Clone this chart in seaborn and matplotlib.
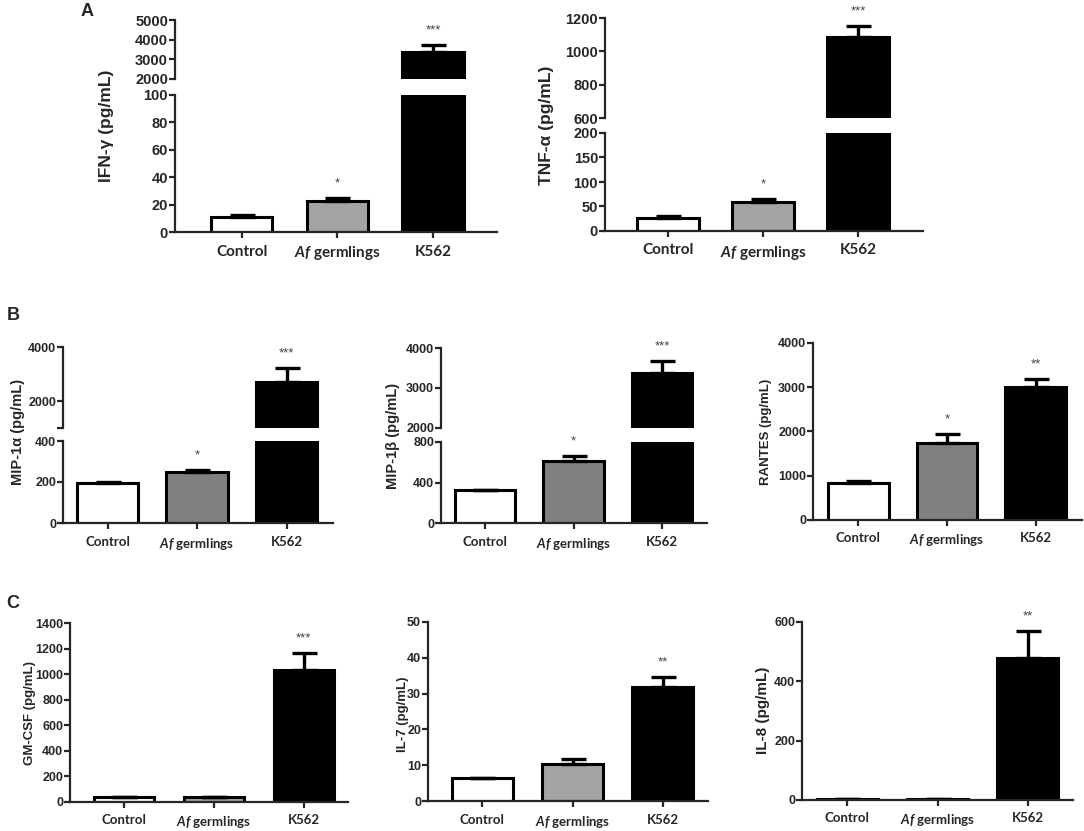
import numpy as np
import pandas as pd
import seaborn as sns
import matplotlib.pyplot as plt

# Werte (Mittelwert, SEM)
groups = ["Control", "Af germlings", "K562"]
group_labels = ["Control", r"$\mathit{Af}$ germlings", "K562"]

ifng_mean = [11, 22.6, 3370]
ifng_sem = [1.4, 2.4, 360]
tnfa_mean = [26.5, 59, 1086]
tnfa_sem = [3.5, 6, 66]
mip1a_mean = [195, 249, 2700]
mip1a_sem = [5, 9, 520]
mip1b_mean = [326, 612, 3375]
mip1b_sem = [0, 50, 300]
rantes_mean = [835, 1740, 3000]
rantes_sem = [45, 200, 190]
gmcsf_mean = [37, 37, 1031]
gmcsf_sem = [0, 0, 133]
il7_mean = [6.4, 10.3, 31.8]
il7_sem = [0, 1.4, 2.8]
il8_mean = [2, 4, 479]
il8_sem = [0, 0, 91]

ifng_stars = ["", "*", "***"]
tnfa_stars = ["", "*", "***"]
mip1a_stars = ["", "*", "***"]
mip1b_stars = ["", "*", "***"]
rantes_stars = ["", "*", "**"]
gmcsf_stars = ["", "", "***"]
il7_stars = ["", "", "**"]
il8_stars = ["", "", "**"]

sns.set_style("ticks")
plt.rcParams["font.family"] = ["Liberation Sans", "DejaVu Sans"]
plt.rcParams["mathtext.fontset"] = "custom"
plt.rcParams["mathtext.it"] = "Lato:italic:bold"
plt.rcParams["mathtext.rm"] = "Lato:bold"

W, H = 1084, 831
fig = plt.figure(figsize=(W / 100, H / 100), dpi=100)


def box(x0, x1, y0, y1):
    # Pixelkoordinaten (von oben) -> Figure-Koordinaten
    return [x0 / W, 1 - y1 / H, (x1 - x0) / W, (y1 - y0) / H]


def bars(ax, means, sems, stars, gray, width):
    df = pd.DataFrame({"group": groups, "value": means})
    sns.barplot(data=df, x="group", y="value", hue="group",
                palette=["white", gray, "black"], legend=False,
                width=width, edgecolor="black", linewidth=2.2, ax=ax)
    ax.errorbar(range(3), means, yerr=[np.zeros(3), sems], fmt="none",
                ecolor="black", elinewidth=2.4, capsize=9, capthick=2.4)
    for i, s in enumerate(stars):
        if s:
            ax.annotate(s, (i, means[i] + sems[i]), xytext=(0, 6),
                        textcoords="offset points", ha="center", va="bottom",
                        fontsize=9.5, color="#444444")
    ax.set_xlabel("")
    ax.set_ylabel("")


def panel(lo_box, lo_ticks, means, sems, stars, gray, width, xlim,
          tick_fs, cat_fs, hi_box=None, hi_ticks=None, hi_labels=None):
    ax = fig.add_axes(box(*lo_box))
    bars(ax, means, sems, stars, gray, width)
    ax.set_ylim(lo_ticks[0], lo_ticks[-1])
    ax.set_yticks(lo_ticks)
    ax.set_xlim(*xlim)
    ax.set_xticks(range(3))
    ax.set_xticklabels(group_labels, fontfamily="Lato", fontweight="bold",
                       fontsize=cat_fs)
    sns.despine(ax=ax)
    for sp in ["left", "bottom"]:
        ax.spines[sp].set_linewidth(1.6)
    ax.tick_params(axis="y", length=4, width=1.6, labelsize=tick_fs, pad=1)
    ax.tick_params(axis="x", length=4, width=1.6, pad=5)
    for t in ax.get_yticklabels():
        t.set_fontweight("bold")
    if hi_box is not None:
        ax2 = fig.add_axes(box(*hi_box))
        bars(ax2, means, sems, stars, gray, width)
        ax2.set_ylim(hi_ticks[0], hi_ticks[-1])
        ax2.set_yticks(hi_ticks)
        ax2.set_yticklabels(hi_labels, fontweight="bold")
        ax2.set_xlim(*xlim)
        sns.despine(ax=ax2, bottom=True)
        ax2.spines["left"].set_linewidth(1.6)
        ax2.tick_params(axis="x", bottom=False, labelbottom=False)
        ax2.tick_params(axis="y", length=4, width=1.6, labelsize=tick_fs, pad=1)
    return ax


# A
panel((175, 497, 95, 232), [0, 20, 40, 60, 80, 100], ifng_mean, ifng_sem,
      ifng_stars, "#a3a3a7", 0.64, (-0.7, 2.67), 10.5, 11,
      hi_box=(175, 497, 20, 79), hi_ticks=[2000, 3000, 4000, 5000],
      hi_labels=["2000", "3000", "4000", "5000"])
panel((605, 923, 133, 231), [0, 50, 100, 150, 200], tnfa_mean, tnfa_sem,
      tnfa_stars, "#a3a3a7", 0.65, (-0.66, 2.68), 10.5, 11,
      hi_box=(605, 923, 18, 118), hi_ticks=[600, 800, 1000, 1200],
      hi_labels=["600", "800", "1000", "1200"])

# B
panel((63, 333, 441, 523), [0, 200, 400], mip1a_mean, mip1a_sem,
      mip1a_stars, "#808080", 0.685, (-0.5, 2.52), 9, 9.5,
      hi_box=(63, 333, 347, 428), hi_ticks=[1000, 2000, 4000],
      hi_labels=["", "2000", "4000"])
panel((441, 707, 442, 523), [0, 400, 800], mip1b_mean, mip1b_sem,
      mip1b_stars, "#808080", 0.685, (-0.5, 2.51), 9, 9.5,
      hi_box=(441, 707, 348, 428), hi_ticks=[2000, 3000, 4000],
      hi_labels=["2000", "3000", "4000"])
panel((813, 1082, 343, 520), [0, 1000, 2000, 3000, 4000], rantes_mean,
      rantes_sem, rantes_stars, "#808080", 0.685, (-0.51, 2.52), 9, 9.5)

# C
panel((70, 348, 623, 802), [0, 200, 400, 600, 800, 1000, 1200, 1400],
      gmcsf_mean, gmcsf_sem, gmcsf_stars, "#a3a3a7", 0.675, (-0.6, 2.49),
      9, 9.5)
panel((428, 708, 622, 801), [0, 10, 20, 30, 40, 50], il7_mean, il7_sem,
      il7_stars, "#a3a3a7", 0.675, (-0.6, 2.5), 9, 9.5)
panel((802, 1073, 622, 800), [0, 200, 400, 600], il8_mean, il8_sem,
      il8_stars, "#a3a3a7", 0.675, (-0.5, 2.5), 9, 9.5)

# Achsentitel
ylabels = [
    (107, 126, "IFN-γ (pg/mL)", 12.5),
    (547, 125, "TNF-α (pg/mL)", 12.5),
    (18, 432, "MIP-1α (pg/mL)", 10.5),
    (393, 436, "MIP-1β (pg/mL)", 10.5),
    (766, 432, "RANTES (pg/mL)", 9.5),
    (30, 713, "GM-CSF (pg/mL)", 9.5),
    (403, 714, "IL-7 (pg/mL)", 9.5),
    (763, 710, "IL-8 (pg/mL)", 11),
]
for x, y, txt, fs in ylabels:
    fig.text(x / W, 1 - y / H, txt, rotation=90, ha="center", va="center",
             fontweight="bold", fontsize=fs)

# Panelbuchstaben
for x, y, txt in [(87, 12, "A"), (13, 315, "B"), (13, 603, "C")]:
    fig.text(x / W, 1 - y / H, txt, ha="center", va="center",
             fontweight="bold", fontsize=13)

plt.savefig("out.png", dpi=100)
